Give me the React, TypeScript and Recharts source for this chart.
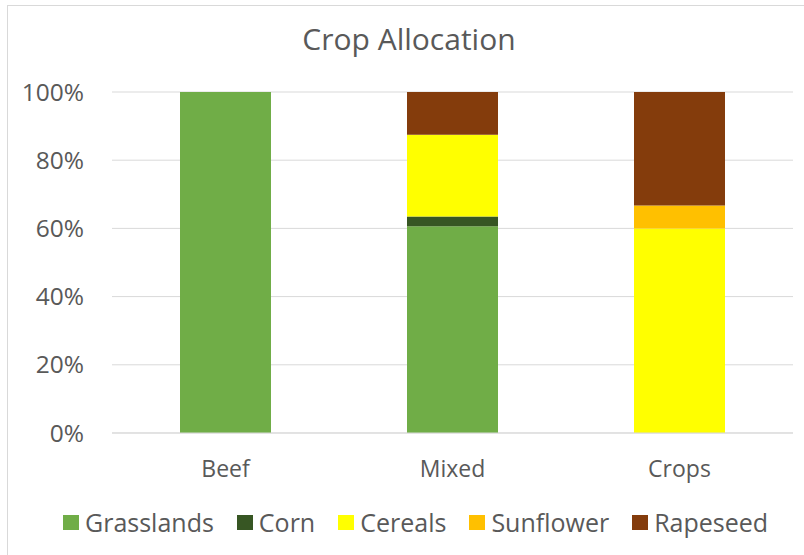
import React from "react";
import { BarChart, Bar, XAxis, YAxis, CartesianGrid } from "recharts";

const categories = ["Beef", "Mixed", "Crops"];
const grasslands = [100, 60.6, 0];
const corn = [0, 2.9, 0];
const cereals = [0, 24, 60];
const sunflower = [0, 0, 6.7];
const rapeseed = [0, 12.5, 33.3];
const yTicks = [0, 20, 40, 60, 80, 100];

const series = [
  { key: "grasslands", label: "Grasslands", color: "#70AD47" },
  { key: "corn", label: "Corn", color: "#375623" },
  { key: "cereals", label: "Cereals", color: "#FFFF00" },
  { key: "sunflower", label: "Sunflower", color: "#FFC000" },
  { key: "rapeseed", label: "Rapeseed", color: "#843C0C" },
];

const data = categories.map((name, i) => ({
  name,
  grasslands: grasslands[i],
  corn: corn[i],
  cereals: cereals[i],
  sunflower: sunflower[i],
  rapeseed: rapeseed[i],
}));

const font = "'Open Sans', sans-serif";
const textColor = "#595959";

export default function App() {
  return (
    <div
      style={{
        position: "absolute",
        left: 0,
        top: 0,
        width: 804,
        height: 555,
        background: "#fff",
        fontFamily: font,
        overflow: "hidden",
      }}
    >
      {/* chart border */}
      <div
        style={{
          position: "absolute",
          left: 7,
          top: 5,
          width: 810,
          height: 560,
          border: "1px solid #d9d9d9",
        }}
      />
      <div
        style={{
          position: "absolute",
          left: 0,
          top: 18,
          width: 818,
          textAlign: "center",
          fontSize: 30,
          color: textColor,
          lineHeight: "42px",
        }}
      >
        Crop Allocation
      </div>
      <BarChart
        width={804}
        height={555}
        data={data}
        margin={{ top: 92, right: 11, left: 0, bottom: 92 }}
        style={{ position: "absolute", left: 0, top: 0 }}
      >
        <CartesianGrid vertical={false} stroke="#d9d9d9" />
        <XAxis
          dataKey="name"
          height={30}
          stroke="#d9d9d9"
          tickLine={false}
          tickSize={0}
          tickMargin={28}
          tick={{ fill: textColor, fontSize: 23, fontFamily: font }}
        />
        <YAxis
          width={112}
          domain={[0, 100]}
          ticks={yTicks}
          tickFormatter={(v) => `${v}%`}
          axisLine={false}
          tickLine={false}
          tickSize={0}
          tickMargin={28}
          tick={{ fill: textColor, fontSize: 24.5, fontFamily: font }}
        />
        {series.map((s) => (
          <Bar
            key={s.key}
            dataKey={s.key}
            stackId="a"
            fill={s.color}
            barSize={91}
            isAnimationActive={false}
          />
        ))}
      </BarChart>
      <div
        style={{
          position: "absolute",
          left: 63,
          top: 505,
          display: "flex",
          alignItems: "center",
          fontSize: 25,
          color: textColor,
          lineHeight: "34px",
        }}
      >
        {series.map((s) => (
          <div key={s.key} style={{ display: "flex", alignItems: "center", marginRight: 23 }}>
            <span
              style={{
                display: "inline-block",
                width: 16,
                height: 15,
                background: s.color,
                marginRight: 6,
              }}
            />
            <span>{s.label}</span>
          </div>
        ))}
      </div>
    </div>
  );
}
